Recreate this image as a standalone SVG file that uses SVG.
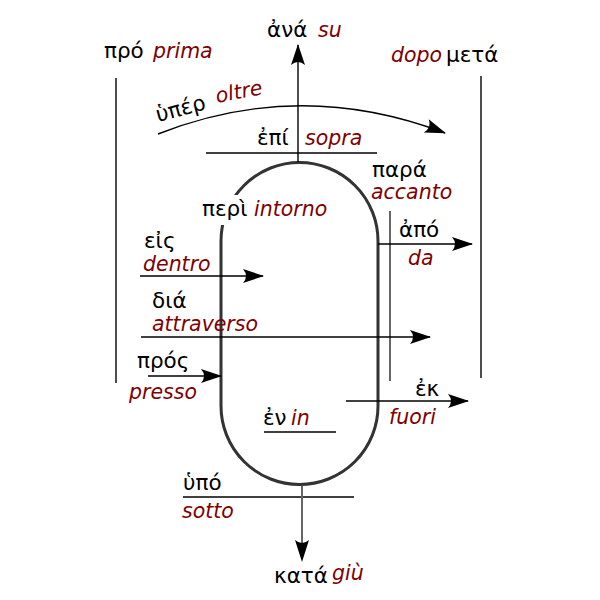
<svg xmlns="http://www.w3.org/2000/svg" width="600" height="600" viewBox="0 0 600 600">
<defs>
<style>
.gr{font-family:"DejaVu Sans","Noto Sans",sans-serif;font-size:21.5px;fill:#000}
.it{font-family:"DejaVu Sans","Noto Sans",sans-serif;font-size:20.5px;font-style:italic;fill:#800000}
.ln{stroke:#000;stroke-width:1.4;fill:none}
.lg{stroke:#666;stroke-width:2;fill:none}
.ar{stroke:#000;stroke-width:1.4;fill:none;marker-end:url(#ah)}
</style>
<marker id="ah" markerUnits="userSpaceOnUse" viewBox="-22 -8 24 16" refX="0" refY="0" markerWidth="24" markerHeight="16" orient="auto">
<path d="M1,0 L-20,-7 Q-14,0 -20,7 Z" fill="#000"/>
</marker>
</defs>
<rect width="600" height="600" fill="#fff"/>
<g id="stadium">
<path d="M221,241 A78.5,78.5 0 0 1 378,241 L378,406 A78.5,78.5 0 0 1 221,406 Z" fill="none" stroke="#333" stroke-width="3"/>
<rect x="199" y="195" width="52" height="30" fill="#fff"/>
</g>
<g id="connectors">
<line class="ar" x1="298" y1="162" x2="298" y2="45"/>
<line class="ln" x1="116" y1="78" x2="116" y2="383"/>
<line class="ln" x1="481" y1="76" x2="481" y2="378"/>
<path class="ar" d="M158,134 Q300,78 445,133"/>
<line class="ln" x1="206" y1="153" x2="377" y2="153"/>
<line class="lg" x1="390" y1="211" x2="390" y2="381"/>
<line class="ar" x1="378" y1="244" x2="472" y2="244"/>
<line class="ar" x1="140" y1="276" x2="263" y2="276"/>
<line class="ar" x1="141" y1="337" x2="430" y2="337"/>
<line class="ar" x1="148" y1="376" x2="221" y2="376"/>
<line class="ln" x1="264" y1="432" x2="336" y2="432"/>
<line class="ar" x1="346" y1="401" x2="468" y2="401"/>
<line class="ln" x1="183" y1="497" x2="354" y2="497"/>
<line class="lg" x1="302" y1="486" x2="302" y2="545"/>
<path d="M302,562 L295,540 Q302,546 309,540 Z" fill="#000"/>
</g>
<g id="ana"><text class="gr" x="267" y="37">ἀνά</text><text class="it" x="318" y="37">su</text></g>
<g id="pro"><text class="gr" x="104" y="58">πρό</text><text class="it" x="153" y="58">prima</text></g>
<g id="meta"><text class="it" x="391" y="62">dopo</text><text class="gr" x="446" y="62">μετά</text></g>
<g id="hyper"><text class="gr" transform="translate(158,122) rotate(-15)">ὑπέρ</text><text class="it" transform="translate(217,103) rotate(-11)">oltre</text></g>
<g id="epi"><text class="gr" x="257" y="145">ἐπί</text><text class="it" x="305" y="145">sopra</text></g>
<g id="peri"><text class="gr" x="202" y="216">περὶ</text><text class="it" x="254" y="216">intorno</text></g>
<g id="para"><text class="gr" x="372" y="177">παρά</text><text class="it" x="371" y="199">accanto</text></g>
<g id="apo"><text class="gr" x="399" y="237">ἀπό</text><text class="it" x="408" y="265">da</text></g>
<g id="eis"><text class="gr" x="144" y="248">εἰς</text><text class="it" x="143" y="271">dentro</text></g>
<g id="dia"><text class="gr" x="152" y="308">διά</text><text class="it" x="152" y="331">attraverso</text></g>
<g id="pros"><text class="gr" x="137" y="368">πρός</text><text class="it" x="129" y="399">presso</text></g>
<g id="en"><text class="gr" x="263" y="425">ἐν</text><text class="it" x="291" y="425">in</text></g>
<g id="ek"><text class="gr" x="415" y="396">ἐκ</text><text class="it" x="389" y="424">fuori</text></g>
<g id="hypo"><text class="gr" x="183" y="490">ὑπό</text><text class="it" x="182" y="518">sotto</text></g>
<g id="kata"><text class="gr" x="274" y="583">κατά</text><text class="it" x="332" y="580">giù</text></g>
</svg>
